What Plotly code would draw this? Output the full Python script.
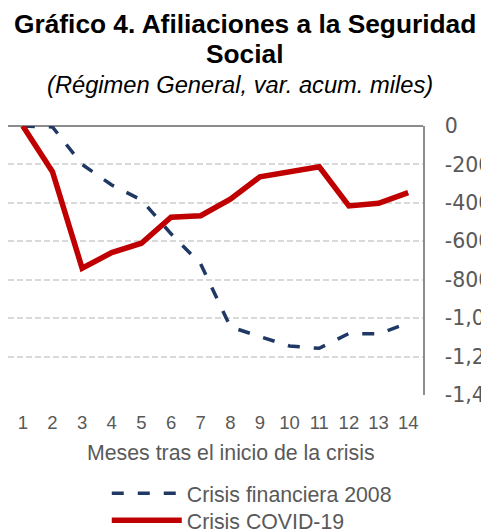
import plotly.graph_objects as go

months = list(range(1, 15))
crisis_2008 = [0, -5, -200, -307, -385, -561, -718, -1045, -1096, -1145, -1157, -1080, -1082, -1025]
covid_19 = [0, -238, -740, -659, -610, -475, -467, -381, -264, -238, -212, -416, -402, -347]
y_ticks = [0, -200, -400, -600, -800, -1000, -1200, -1400]
y_tick_labels = ["0", "-200", "-400", "-600", "-800", "-1,000", "-1,200", "-1,400"]

FONT = "Liberation Sans, Arial, sans-serif"
GREY = "#595959"

fig = go.Figure()
fig.add_trace(go.Scatter(
    x=months, y=crisis_2008, mode="lines", name="Crisis financiera 2008",
    line=dict(color="#1f3864", width=3.5, dash="12px,14px"),
    legend="legend",
))
fig.add_trace(go.Scatter(
    x=months, y=covid_19, mode="lines", name="Crisis COVID-19",
    line=dict(color="#c00000", width=5.5),
    legend="legend2",
))

legend_common = dict(
    xanchor="left", yanchor="top",
    font=dict(size=21.3, color=GREY, family=FONT),
    itemwidth=70, bgcolor="rgba(0,0,0,0)",
)

fig.update_layout(
    width=481, height=531,
    margin=dict(l=8, r=58, t=126, b=136, autoexpand=False),
    paper_bgcolor="white", plot_bgcolor="white",
    font=dict(family=FONT, color=GREY),
    showlegend=True,
    legend=dict(x=0.238, y=-0.29, **legend_common),
    legend2=dict(x=0.238, y=-0.39, **legend_common),
    annotations=[
        dict(text="<b>Gráfico 4. Afiliaciones a la Seguridad</b>",
             xref="paper", yref="paper", x=0.571, y=1, xanchor="center", yanchor="middle",
             yshift=102, showarrow=False,
             font=dict(size=26.3, color="black", family=FONT)),
        dict(text="<b>Social</b>",
             xref="paper", yref="paper", x=0.571, y=1, xanchor="center", yanchor="middle",
             yshift=72, showarrow=False,
             font=dict(size=26.3, color="black", family=FONT)),
        dict(text="<i>(Régimen General, var. acum. miles)</i>",
             xref="paper", yref="paper", x=0.560, y=1, xanchor="center", yanchor="middle",
             yshift=41, showarrow=False,
             font=dict(size=23.7, color="black", family=FONT)),
        dict(text="Meses tras el inicio de la crisis",
             xref="paper", yref="paper", x=0.537, y=0, xanchor="center", yanchor="top",
             yshift=-44, showarrow=False,
             font=dict(size=21.3, color=GREY, family=FONT)),
    ],
)

fig.update_xaxes(
    range=[0.5, 14.5], tickvals=months, ticktext=[str(m) for m in months],
    showgrid=False, zeroline=False, showline=False, ticks="",
    tickfont=dict(size=18.5, color=GREY, family=FONT),
    ticklabelstandoff=14, automargin=False,
)
fig.update_yaxes(
    side="right", range=[-1400, 0], tickvals=y_ticks, ticktext=y_tick_labels,
    showgrid=True, gridcolor="#d9d9d9", gridwidth=1.5, griddash="6px,3px",
    zeroline=True, zerolinecolor="#8c8c8c", zerolinewidth=1.5,
    showline=True, linecolor="#8c8c8c", linewidth=1.5,
    ticks="", tickfont=dict(size=20.5, color=GREY, family="DejaVu Sans, sans-serif"),
    ticklabelstandoff=16, automargin=False,
)

fig.write_html(
    "out.html",
    config={"displayModeBar": False},
    post_script="document.body.style.margin='0';document.body.style.overflow='hidden';",
)
